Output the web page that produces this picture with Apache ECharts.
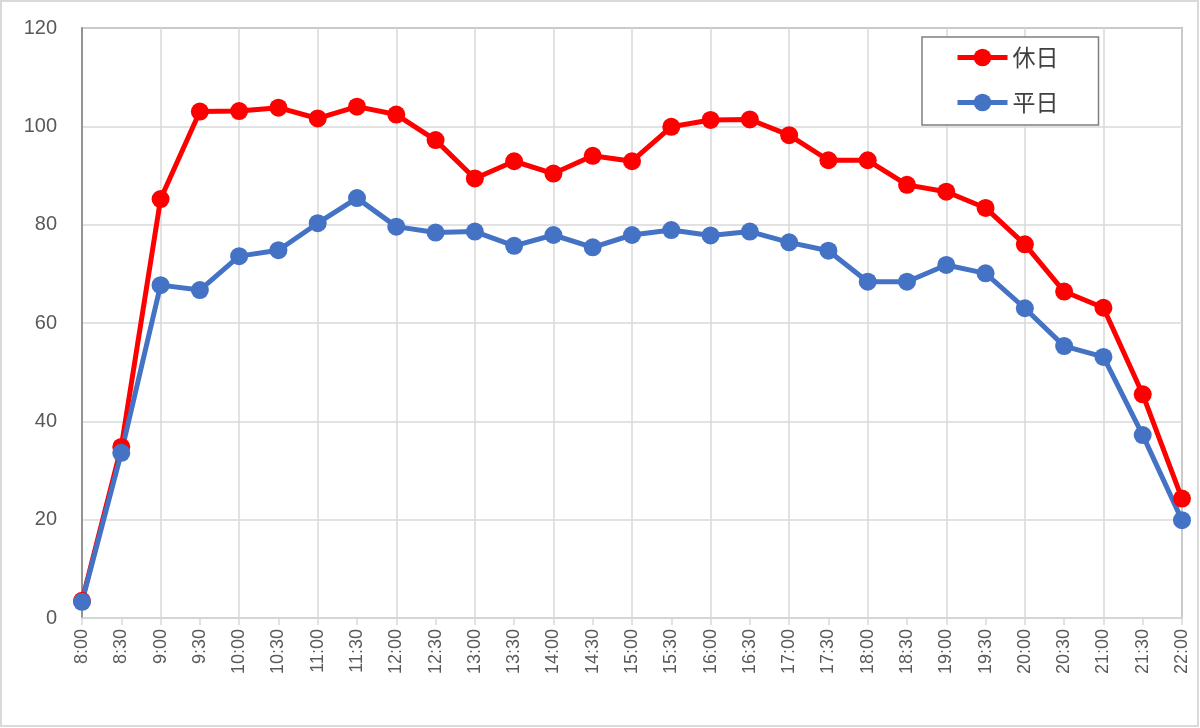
<!DOCTYPE html>
<html>
<head>
<meta charset="utf-8">
<script src="https://cdn.jsdelivr.net/npm/echarts@6/dist/echarts.min.js"></script>
<style>
html,body{margin:0;padding:0;background:#fff;}
#chart{width:1200px;height:728px;}
</style>
</head>
<body>
<div id="chart"></div>
<script>
const categories = ['8:00','8:30','9:00','9:30','10:00','10:30','11:00','11:30','12:00','12:30','13:00','13:30','14:00','14:30','15:00','15:30','16:00','16:30','17:00','17:30','18:00','18:30','19:00','19:30','20:00','20:30','21:00','21:30','22:00'];
const holidayName = '休日';
const weekdayName = '平日';
const holidayValues = [3.5,34.8,85.2,103.0,103.1,103.8,101.6,104.0,102.4,97.2,89.4,92.9,90.4,94.0,92.9,99.9,101.3,101.4,98.2,93.1,93.1,88.1,86.7,83.4,76.0,66.4,63.1,45.5,24.3];
const weekdayValues = [3.3,33.6,67.7,66.7,73.6,74.8,80.3,85.4,79.6,78.4,78.6,75.7,77.9,75.4,77.9,78.9,77.8,78.6,76.4,74.7,68.4,68.4,71.8,70.1,63.0,55.3,53.1,37.2,19.9];
const yTicks = {min:0, max:120, interval:20};

const chart = echarts.init(document.getElementById('chart'));
const numFont = 'Liberation Sans, Arial, sans-serif';
chart.setOption({
  backgroundColor:'#ffffff',
  animation:false,
  graphic:[{type:'rect',shape:{x:1,y:1,width:1197,height:725},style:{fill:'none',stroke:'#d9d9d9',lineWidth:2},z:-10}],
  grid:{left:82,right:18,top:28,bottom:110,show:true,borderColor:'#808080',borderWidth:1.5,backgroundColor:'transparent'},
  legend:{
    orient:'vertical',left:922,top:37,
    data:[holidayName,weekdayName],
    itemWidth:50,itemHeight:22,itemGap:22,
    padding:[9,40,11,33],
    lineStyle:{width:5},
    borderColor:'#7f7f7f',borderWidth:1.5,backgroundColor:'#fff',
    textStyle:{fontSize:23,color:'#404040',fontFamily:'Noto Sans CJK JP'}
  },
  xAxis:{
    type:'category',data:categories,boundaryGap:false,
    axisLine:{show:true,lineStyle:{color:'#d9d9d9',width:1.5}},
    axisTick:{show:true,interval:0,length:7,lineStyle:{color:'#d9d9d9',width:1.5}},
    axisLabel:{interval:0,rotate:90,fontSize:18,color:'#595959',fontFamily:numFont,margin:11},
    splitLine:{show:true,interval:function(i){return i%2===0;},lineStyle:{color:'#d9d9d9',width:1.5}}
  },
  yAxis:{
    type:'value',min:yTicks.min,max:yTicks.max,interval:yTicks.interval,
    axisLine:{show:true,lineStyle:{color:'#808080',width:1.5}},
    axisTick:{show:false},
    axisLabel:{fontSize:20,color:'#595959',fontFamily:numFont,margin:25},
    splitLine:{show:true,lineStyle:{color:'#d9d9d9',width:1.5}}
  },
  series:[
    {name:holidayName,type:'line',data:holidayValues,symbol:'circle',symbolSize:18,
     itemStyle:{color:'#ff0000'},lineStyle:{color:'#ff0000',width:5}},
    {name:weekdayName,type:'line',data:weekdayValues,symbol:'circle',symbolSize:18,
     itemStyle:{color:'#4472c4'},lineStyle:{color:'#4472c4',width:5}}
  ]
});
</script>
</body>
</html>
